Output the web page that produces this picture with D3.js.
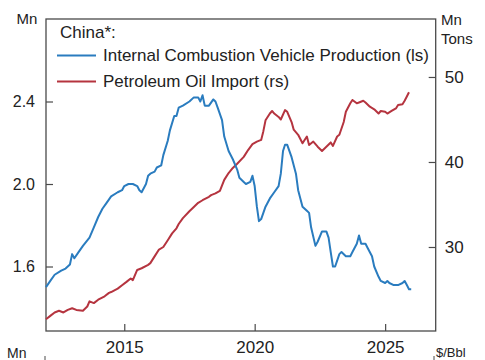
<!DOCTYPE html>
<html>
<head>
<meta charset="utf-8">
<script src="https://cdn.jsdelivr.net/npm/d3@7"></script>
<style>
  html, body { margin: 0; padding: 0; background: #fff; }
  svg { display: block; }
  text { font-family: "Liberation Sans", Arial, sans-serif; fill: #222; }
</style>
</head>
<body>
<svg id="chart" width="485" height="360"></svg>
<script>
// ---- Data ----
const iceDates = ["2012-01","2012-03","2012-05","2012-08","2012-10","2012-12","2013-01","2013-02","2013-04","2013-06","2013-09","2013-11",
  "2014-01","2014-03","2014-05","2014-07","2014-10","2014-12","2015-01","2015-03","2015-05","2015-07","2015-08","2015-09","2015-11","2015-12",
  "2016-01","2016-03","2016-04","2016-06","2016-07","2016-09","2016-10","2016-12","2017-01","2017-02","2017-04","2017-07","2017-09","2017-11","2017-12",
  "2018-01","2018-02","2018-04","2018-06","2018-07","2018-08","2018-10","2018-11","2019-01","2019-03","2019-05","2019-06","2019-08","2019-09","2019-11","2019-12",
  "2020-01","2020-02","2020-03","2020-04","2020-06","2020-08","2020-10","2020-12","2021-01","2021-02","2021-03","2021-04","2021-06","2021-08","2021-09","2021-11",
  "2022-01","2022-02","2022-03","2022-05","2022-06","2022-08","2022-10","2022-11","2022-12","2023-01","2023-02","2023-04","2023-05","2023-07","2023-09","2023-10","2023-12",
  "2024-01","2024-02","2024-04","2024-05","2024-07","2024-08","2024-10","2024-11","2025-01","2025-02","2025-03","2025-05","2025-07","2025-09","2025-10","2025-11","2025-12","2026-01"];
const iceValues = [1.50,1.53,1.56,1.58,1.59,1.61,1.66,1.64,1.67,1.70,1.74,1.79,
  1.84,1.88,1.91,1.94,1.96,1.97,1.99,2.00,2.00,1.99,1.97,1.96,2.00,2.04,
  2.05,2.06,2.08,2.09,2.14,2.21,2.26,2.33,2.33,2.37,2.38,2.40,2.42,2.42,2.40,
  2.43,2.38,2.38,2.41,2.40,2.37,2.31,2.23,2.16,2.12,2.07,2.03,2.01,2.00,2.01,2.04,
  1.99,1.89,1.82,1.83,1.89,1.93,1.96,1.99,2.05,2.16,2.19,2.19,2.13,2.05,1.97,1.89,
  1.87,1.86,1.79,1.70,1.72,1.77,1.77,1.74,1.67,1.60,1.60,1.66,1.67,1.65,1.65,1.67,1.71,
  1.75,1.71,1.71,1.69,1.65,1.60,1.55,1.53,1.52,1.53,1.52,1.51,1.51,1.52,1.53,1.51,1.49,1.49];

const oilDates = ["2012-01","2012-03","2012-05","2012-07","2012-09","2012-11","2013-01","2013-03","2013-06","2013-08","2013-09","2013-11",
  "2014-01","2014-04","2014-06","2014-07","2014-10","2014-12","2015-02","2015-04","2015-05","2015-07","2015-09","2015-12",
  "2016-01","2016-03","2016-05","2016-07","2016-09","2016-11","2017-01","2017-02","2017-04","2017-07","2017-09","2017-11",
  "2018-01","2018-04","2018-05","2018-07","2018-09","2018-11","2019-01","2019-03","2019-05","2019-08","2019-10","2019-12",
  "2020-02","2020-04","2020-05","2020-06","2020-08","2020-09","2020-10","2020-12","2021-01","2021-03","2021-04","2021-06","2021-07","2021-09","2021-11",
  "2022-01","2022-02","2022-04","2022-06","2022-08","2022-10","2022-12","2023-01","2023-03","2023-04","2023-06","2023-07","2023-09","2023-10","2023-12",
  "2024-01","2024-03","2024-04","2024-06","2024-08","2024-10","2024-11","2025-01","2025-02","2025-04","2025-06","2025-07","2025-09","2025-10","2025-11","2025-12"];
const oilValues = [21.5,21.9,22.3,22.5,22.3,22.6,22.8,22.6,22.5,23.0,23.6,23.4,
  23.8,24.2,24.6,24.7,25.1,25.5,25.9,26.3,26.1,27.3,27.5,27.9,
  28.1,28.9,29.7,30.0,30.8,31.6,32.2,32.7,33.4,34.2,34.7,35.2,
  35.5,35.9,36.1,36.3,36.6,37.9,38.7,39.3,39.8,40.6,41.4,42.1,
  42.4,42.6,43.6,44.9,45.7,46.0,45.7,45.3,45.0,46.1,45.9,44.7,43.8,43.2,42.2,
  43.0,42.0,42.4,41.8,41.3,41.8,42.3,41.9,43.0,43.2,44.7,45.9,46.9,47.3,46.9,
  47.0,47.2,47.0,46.5,46.2,45.7,46.0,45.9,45.7,46.0,46.3,46.7,46.8,47.2,47.7,48.2];

const leftTicks = [1.6, 2.0, 2.4];
const rightTicks = [30, 40, 50];
const xTickYears = [2015, 2020, 2025];
const legendTitle = "China*:";
const seriesNames = ["Internal Combustion Vehicle Production (ls)", "Petroleum Oil Import (rs)"];
const colors = ["#2a7cbf", "#b5343f"];

// ---- Layout ----
const L = 46, R = 435.7, T = 19, B = 331;
const parse = d3.timeParse("%Y-%m");
const svg = d3.select("#chart");

const x = d3.scaleTime()
  .domain([new Date(2012, 0, 1), new Date(2026, 11, 10)])
  .range([L, R]);
const yL = d3.scaleLinear().domain([1.2873, 2.8]).range([B, T]);
const yR = d3.scaleLinear().domain([20.118, 56.82]).range([B, T]);

const ice = iceDates.map((d, i) => ({ date: parse(d), v: iceValues[i] }));
const oil = oilDates.map((d, i) => ({ date: parse(d), v: oilValues[i] }));

const axisColor = "#4a4a4a";

// Axes with inward ticks
const gL = svg.append("g").attr("transform", `translate(${L},0)`)
  .call(d3.axisLeft(yL).tickValues(leftTicks).tickSize(-7).tickPadding(11).tickFormat(d3.format(".1f")));
const gR = svg.append("g").attr("transform", `translate(${R},0)`)
  .call(d3.axisRight(yR).tickValues(rightTicks).tickSize(-7).tickPadding(9).tickFormat(d3.format("d")));
const gB = svg.append("g").attr("transform", `translate(0,${B})`)
  .call(d3.axisBottom(x).tickValues(xTickYears.map(y => new Date(y, 0, 1))).tickSize(-7).tickPadding(10).tickFormat(d3.timeFormat("%Y")));

[gL, gR, gB].forEach(g => {
  g.select(".domain").remove();
  g.selectAll(".tick line").attr("stroke", axisColor).attr("stroke-width", 1.2);
  g.selectAll(".tick text").attr("fill", "#222")
    .attr("font-family", '"Liberation Sans", Arial, sans-serif');
});
gL.selectAll(".tick text").attr("font-size", 16);
gR.selectAll(".tick text").attr("font-size", 17);
gB.selectAll(".tick text").attr("font-size", 17);

// Frame
svg.append("rect").attr("x", L).attr("y", T).attr("width", R - L).attr("height", B - T)
  .attr("fill", "none").attr("stroke", axisColor).attr("stroke-width", 1.3);

// Lines
const lineL = d3.line().x(d => x(d.date)).y(d => yL(d.v)).curve(d3.curveLinear);
const lineR = d3.line().x(d => x(d.date)).y(d => yR(d.v)).curve(d3.curveLinear);
svg.append("path").datum(oil).attr("d", lineR).attr("fill", "none")
  .attr("stroke", colors[1]).attr("stroke-width", 2).attr("stroke-linejoin", "round");
svg.append("path").datum(ice).attr("d", lineL).attr("fill", "none")
  .attr("stroke", colors[0]).attr("stroke-width", 2).attr("stroke-linejoin", "round");

// Unit labels
svg.append("text").attr("x", 27).attr("y", 24).attr("text-anchor", "middle").attr("font-size", 15).text("Mn");
svg.append("text").attr("x", 441).attr("y", 25).attr("font-size", 15).text("Mn");
svg.append("text").attr("x", 441).attr("y", 44).attr("font-size", 15).text("Tons");

// Legend
svg.append("text").attr("x", 60).attr("y", 38).attr("font-size", 17).text(legendTitle);
[55, 81].forEach((ly, i) => {
  svg.append("line").attr("x1", 57).attr("x2", 96).attr("y1", ly + 0.5).attr("y2", ly + 0.5)
    .attr("stroke", colors[i]).attr("stroke-width", 2);
  svg.append("text").attr("x", 103).attr("y", ly + 6).attr("font-size", 17).text(seriesNames[i]);
});

// Next panel fragments at the bottom edge
svg.append("text").attr("x", 7).attr("y", 358).attr("font-size", 14).text("Mn");
svg.append("text").attr("x", 436).attr("y", 357).attr("font-size", 13).text("$/Bbl");
svg.append("line").attr("x1", L - 1).attr("x2", L - 1).attr("y1", 356).attr("y2", 360).attr("stroke", axisColor);
svg.append("line").attr("x1", 434).attr("x2", 434).attr("y1", 356).attr("y2", 360).attr("stroke", axisColor);
</script>
</body>
</html>
